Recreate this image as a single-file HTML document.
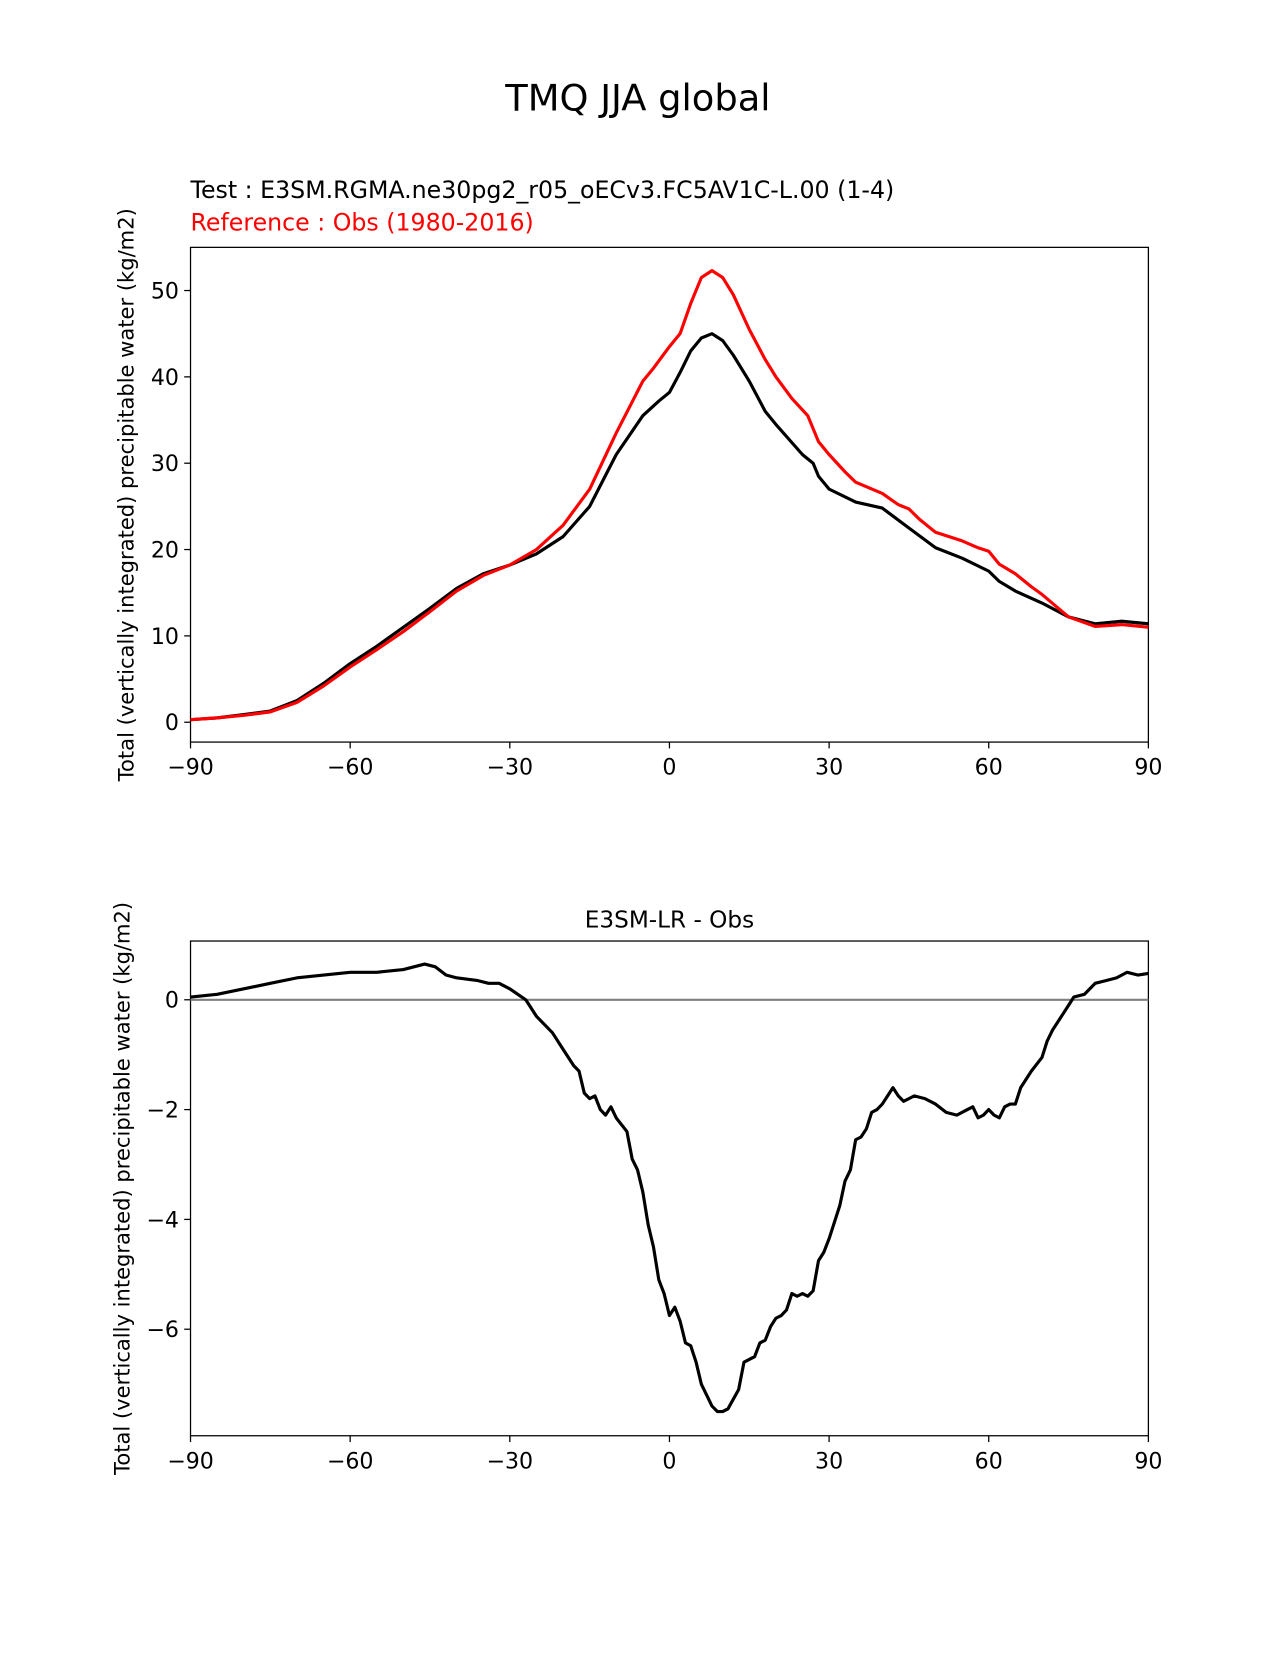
<!DOCTYPE html>
<html><head><meta charset="utf-8"><style>
body{margin:0;background:#fff;}
svg text{font-family:"DejaVu Sans","Liberation Sans",sans-serif;}
</style></head><body>
<svg id="fig" width="1275" height="1650" viewBox="0 0 1275 1650" xmlns="http://www.w3.org/2000/svg">
<rect width="1275" height="1650" fill="#fff"/>
<g transform="scale(1.0526)">
<text x="606" y="105" font-size="35" text-anchor="middle">TMQ JJA global</text>
<text x="181" y="188" font-size="22.5">Test : E3SM.RGMA.ne30pg2_r05_oECv3.FC5AV1C-L.00 (1-4)</text>
<text x="181" y="219" font-size="22.5" fill="#ff0000">Reference : Obs (1980-2016)</text>
<text x="636" y="881" font-size="22" text-anchor="middle">E3SM-LR - Obs</text>
<g id="top"></g><g id="bot"></g>
</g>
</svg>
<script>
const testLat=[-90,-85,-80,-75,-70,-65,-60,-55,-50,-45,-40,-35,-30,-25,-20,-15,-10,-5,-2,0,2,4,6,8,10,12,15,18,20,25,27,28,30,35,40,45,50,55,60,62,65,70,75,80,85,90];
const testVal=[0.3,0.5,0.9,1.3,2.5,4.5,6.8,8.8,11,13.2,15.5,17.2,18.2,19.5,21.5,25,31,35.5,37.2,38.2,40.5,43,44.5,45,44.2,42.5,39.5,36,34.5,31,30,28.5,27,25.5,24.8,22.5,20.2,19,17.5,16.3,15.2,13.8,12.2,11.4,11.7,11.4];
const obsLat=[-90,-85,-80,-75,-70,-65,-60,-55,-50,-45,-40,-35,-30,-25,-20,-15,-10,-5,-3,0,2,4,6,8,10,12,15,18,20,23,26,28,30,33,35,40,43,45,47,50,55,58,60,62,65,68,70,75,80,85,90];
const obsVal=[0.3,0.5,0.8,1.2,2.3,4.2,6.4,8.4,10.5,12.8,15.2,17,18.2,20,22.8,27,33.5,39.5,41,43.5,45,48.5,51.5,52.3,51.5,49.5,45.5,42,40,37.5,35.5,32.5,31,29,27.8,26.5,25.2,24.7,23.5,22,21,20.2,19.8,18.3,17.2,15.7,14.8,12.2,11.1,11.3,11];
const diffLat=[-90,-85,-80,-75,-70,-65,-60,-55,-50,-46,-44,-42,-40,-36,-34,-32,-30,-27,-25,-22,-20,-18,-17,-16,-15,-14,-13,-12,-11,-10,-8,-7,-6,-5,-4,-3,-2,-1,0,1,2,3,4,5,6,8,9,10,11,13,14,15,16,17,18,19,20,21,22,23,24,25,26,27,28,29,30,32,33,34,35,36,37,38,39,40,42,43,44,45,46,48,50,52,54,56,57,58,59,60,61,62,63,64,65,66,68,70,71,72,74,75,76,78,80,82,84,86,88,90];
const diffVal=[0.05,0.1,0.2,0.3,0.4,0.45,0.5,0.5,0.55,0.65,0.6,0.45,0.4,0.35,0.3,0.3,0.2,0.0,-0.3,-0.6,-0.9,-1.2,-1.3,-1.7,-1.8,-1.75,-2.0,-2.1,-1.95,-2.15,-2.4,-2.9,-3.1,-3.5,-4.1,-4.5,-5.1,-5.35,-5.75,-5.6,-5.85,-6.25,-6.3,-6.6,-7.0,-7.4,-7.5,-7.5,-7.45,-7.1,-6.6,-6.55,-6.5,-6.25,-6.2,-5.95,-5.8,-5.75,-5.65,-5.35,-5.4,-5.35,-5.4,-5.3,-4.75,-4.6,-4.35,-3.75,-3.3,-3.1,-2.55,-2.5,-2.35,-2.05,-2.0,-1.9,-1.6,-1.75,-1.85,-1.8,-1.75,-1.8,-1.9,-2.05,-2.1,-2.0,-1.95,-2.15,-2.1,-2.0,-2.1,-2.15,-1.95,-1.9,-1.9,-1.6,-1.3,-1.05,-0.75,-0.55,-0.25,-0.1,0.05,0.1,0.3,0.35,0.4,0.5,0.45,0.48];
const xTicks=[-90,-60,-30,0,30,60,90];
const xTickLabels=["\u221290","\u221260","\u221230","0","30","60","90"];
const topYTicks=[0,10,20,30,40,50];
const botYTicks=[0,-2,-4,-6];
const botYTickLabels=["0","\u22122","\u22124","\u22126"];

const NS="http://www.w3.org/2000/svg";
function mk(parent,tag,attrs){const e=document.createElementNS(NS,tag);for(const k in attrs)e.setAttribute(k,attrs[k]);parent.appendChild(e);return e;}
const L=181,R=1091;
const xs=v=>L+(v+90)*(R-L)/180;
function axes(g,top,bot,ymin,ymax,yt,ytl,prefix){
  const ys=v=>bot-(v-ymin)*(bot-top)/(ymax-ymin);
  const fr=mk(g,'rect',{x:L,y:top,width:R-L,height:bot-top,fill:'none',stroke:'#000','stroke-width':1.2});
  
  
  xTicks.forEach((t,i)=>{
    const ln=mk(g,'line',{x1:xs(t),x2:xs(t),y1:bot,y2:bot+6,stroke:'#000','stroke-width':1.2});
    
    
    const tx=mk(g,'text',{x:xs(t),y:bot+31,'font-size':21,'text-anchor':'middle'});
    tx.textContent=xTickLabels[i];
    
    
  });
  yt.forEach((t,i)=>{
    const ln=mk(g,'line',{x1:L-6,x2:L,y1:ys(t),y2:ys(t),stroke:'#000','stroke-width':1.2});
    
    
    const tx=mk(g,'text',{x:L-11,y:ys(t)+7.5,'font-size':21,'text-anchor':'end'});
    tx.textContent=ytl[i];
    
    
  });
  const cy=(top+bot)/2;
  const yl=mk(g,'text',{x:0,y:0,'font-size':20,'text-anchor':'middle',transform:`translate(${prefix==='top'?127:123},${cy}) rotate(-90)`});
  yl.textContent='Total (vertically integrated) precipitable water (kg/m2)';
  
  
  return ys;
}
function line(g,lat,val,ys,color,name){
  const d=lat.map((x,i)=>(i?'L':'M')+xs(x).toFixed(1)+','+ys(val[i]).toFixed(1)).join(' ');
  const p=mk(g,'path',{d:d,fill:'none',stroke:color,'stroke-width':3,'stroke-linejoin':'round'});
  
  
}
const gt=document.getElementById('top');
const ysT=axes(gt,235,705,-2.3,55,topYTicks,topYTicks.map(String),'top');
line(gt,testLat,testVal,ysT,'#000','test-line');
line(gt,obsLat,obsVal,ysT,'#ff0000','obs-line');
const gb=document.getElementById('bot');
const ysB=axes(gb,894,1364,-7.94,1.07,botYTicks,botYTickLabels,'bottom');
const z=mk(gb,'line',{x1:L,x2:R,y1:ysB(0),y2:ysB(0),stroke:'#808080','stroke-width':2});


line(gb,diffLat,diffVal,ysB,'#000','diff-line');
</script>
</body></html>
